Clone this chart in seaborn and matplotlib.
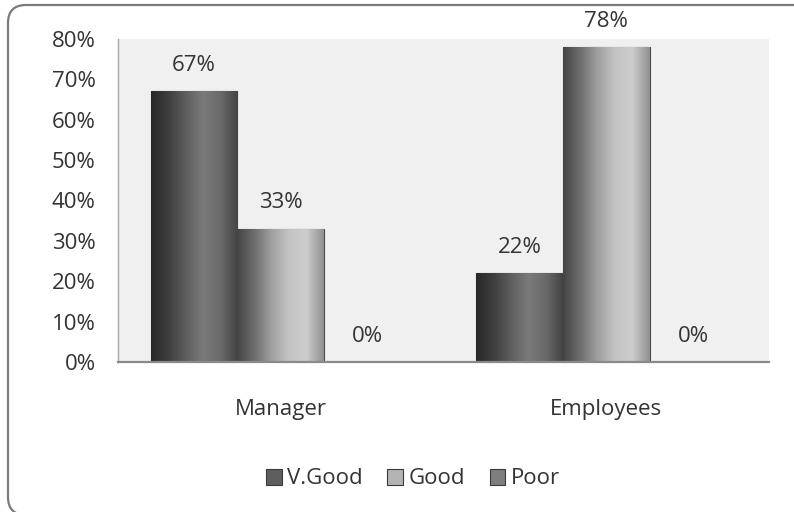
import matplotlib
matplotlib.use("Agg")
import matplotlib.pyplot as plt
from matplotlib.colors import LinearSegmentedColormap
from matplotlib.patches import FancyBboxPatch, Patch
from matplotlib.ticker import PercentFormatter
from matplotlib.transforms import IdentityTransform
import numpy as np
import pandas as pd
import seaborn as sns

# === data ===
groups = ["Manager", "Employees"]
ratings = ["V.Good", "Good", "Poor"]
manager_vals = [0.67, 0.33, 0.0]
employee_vals = [0.22, 0.78, 0.0]
y_ticks = [0.0, 0.1, 0.2, 0.3, 0.4, 0.5, 0.6, 0.7, 0.8]

df = pd.DataFrame({
    "group": [groups[0]] * 3 + [groups[1]] * 3,
    "rating": ratings * 2,
    "value": manager_vals + employee_vals,
})

# legend / flat colours and the bar gradients (left -> right)
flat_colors = ["#5e5e5e", "#b4b4b4", "#7e7e7e"]
gradients = {
    "V.Good": ["#282828", "#3e3e3e", "#5e5e5e", "#7a7a7a", "#6a6a6a", "#444444"],
    "Good": ["#444444", "#6e6e6e", "#a0a0a0", "#c4c4c4", "#cdcdcd", "#909090"],
    "Poor": ["#505050", "#7a7a7a", "#a0a0a0", "#8a8a8a"],
}

sns.set_style("white")
plt.rcParams["font.family"] = ["Open Sans", "DejaVu Sans"]
text_col = "#333333"
fs = 16

fig = plt.figure(figsize=(7.94, 5.12), dpi=100)
ax = fig.add_axes([118 / 794, 150 / 512, 651 / 794, 323 / 512])

sns.barplot(data=df, x="group", y="value", hue="rating", palette=flat_colors,
            width=0.8, edgecolor="#4a4a4a", linewidth=0.8, ax=ax, zorder=2)

ax.get_legend().remove()

# gradient fill on each bar
for cont, name in zip(ax.containers, ratings):
    cmap = LinearSegmentedColormap.from_list(name, gradients[name])
    grad = np.linspace(0, 1, 256).reshape(1, -1)
    for bar in cont:
        h = bar.get_height()
        if h <= 0:
            continue
        x0 = bar.get_x()
        w = bar.get_width()
        im = ax.imshow(grad, cmap=cmap, aspect="auto", extent=(x0, x0 + w, 0, h),
                       zorder=2.5)
        im.set_clip_path(bar)
    ax.bar_label(cont, labels=[f"{v*100:.0f}%" for v in cont.datavalues],
                 padding=11, fontsize=fs, color=text_col)

ax.set_xlim(-0.5, 1.5)
ax.set_ylim(0, 0.8)
ax.set_yticks(y_ticks)
ax.yaxis.set_major_formatter(PercentFormatter(1.0, decimals=0))
ax.set_facecolor("#f0f0f0")
ax.set_xlabel("")
ax.set_ylabel("")
ax.tick_params(axis="y", length=0, pad=16, labelsize=fs, labelcolor=text_col)
ax.tick_params(axis="x", length=0, pad=27, labelsize=fs, labelcolor=text_col)

for side in ["top", "right"]:
    ax.spines[side].set_visible(False)
ax.spines["left"].set_color("#a8a8a8")
ax.spines["left"].set_linewidth(1.0)
ax.spines["bottom"].set_color("#8a8a8a")
ax.spines["bottom"].set_linewidth(1.6)

# legend with square keys
handles = [Patch(facecolor=c, edgecolor="#3a3a3a", linewidth=0.8) for c in flat_colors]
leg = fig.legend(handles, ratings, loc="center", bbox_to_anchor=(413 / 794, 33 / 512),
                 ncol=3, frameon=False, fontsize=fs, handlelength=0.7,
                 handleheight=0.7, handletextpad=0.25, columnspacing=1.1)
for t in leg.get_texts():
    t.set_color(text_col)

# rounded chart frame (partly off the page, like the screenshot)
frame = FancyBboxPatch((8, -3), 812, 510, boxstyle="round,pad=0,rounding_size=18",
                       transform=IdentityTransform(), fill=False,
                       edgecolor="#7a7a7a", linewidth=1.6)
fig.add_artist(frame)

fig.savefig("out.png", dpi=100)
